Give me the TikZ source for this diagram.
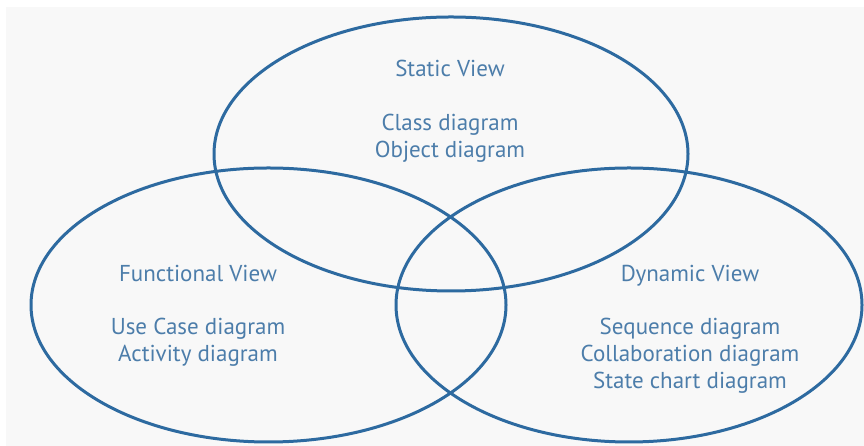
\documentclass[tikz,border=0pt]{standalone}
\usepackage{fontspec}
\usetikzlibrary{shapes.geometric}
\newfontfamily\viewfont{PT Sans}
\definecolor{viewblue}{HTML}{2D6AA0}
\definecolor{textblue}{HTML}{4C7DAA}
\definecolor{bggrey}{HTML}{F8F8F8}
\begin{document}
\begin{tikzpicture}[x=1pt,y=1pt,
view/.style={ellipse,draw=viewblue,line width=3pt,inner sep=0pt},
lbl/.style={text=textblue,align=center,inner sep=0pt,anchor=base,
    font=\viewfont\fontsize{23}{27}\selectfont}]
\useasboundingbox (0,0) rectangle (864,446);
\fill[white] (0,0) rectangle (864,446);
\fill[bggrey] (6,0) rectangle (864,439);
% the three views
\node[view,minimum width=474pt,minimum height=274pt] (static) at (451,292) {};
\node[view,minimum width=475pt,minimum height=274pt] (functional) at (268.5,141) {};
\node[view,minimum width=466pt,minimum height=274pt] (dynamic) at (629,141) {};
% their diagrams (base = last line)
\node[lbl] (statictitle) at (450,369) {Static View};
\node[lbl] (staticlist) at (450,288) {Class diagram\\Object diagram};
\node[lbl] (functionaltitle) at (198,164) {Functional View};
\node[lbl] (functionallist) at (198,84) {Use Case diagram\\Activity diagram};
\node[lbl] (dynamictitle) at (690,164) {Dynamic View};
\node[lbl] (dynamiclist) at (690,57) {Sequence diagram\\Collaboration diagram\\State chart diagram};
\end{tikzpicture}
\end{document}
